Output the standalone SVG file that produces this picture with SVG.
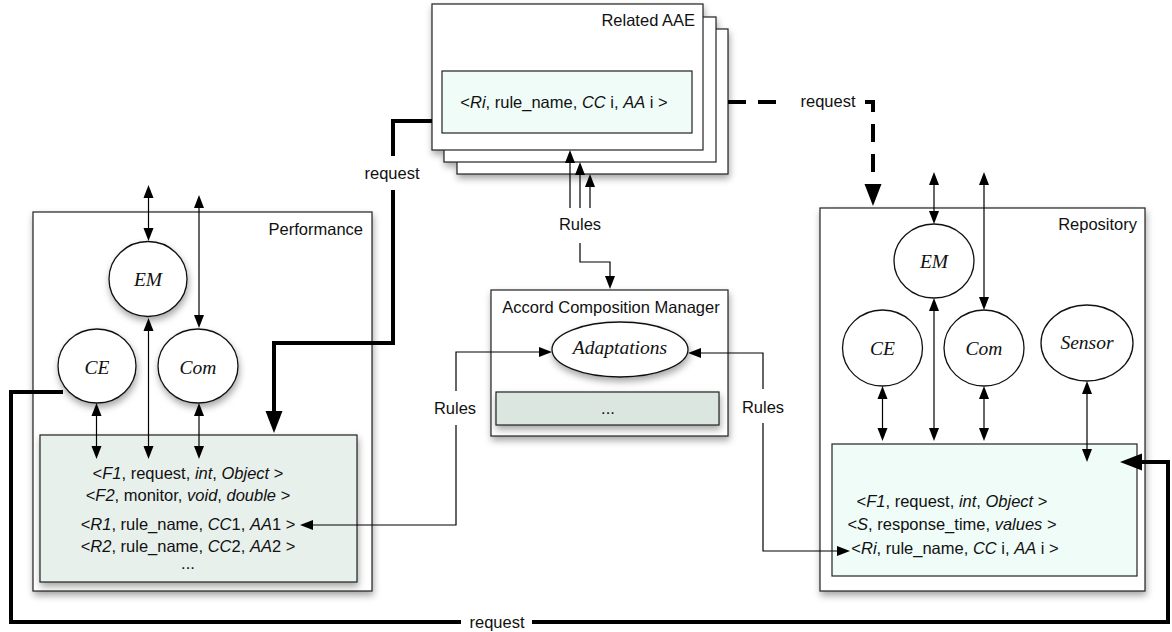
<svg xmlns="http://www.w3.org/2000/svg" width="1172" height="632" viewBox="0 0 1172 632">
  <style>
    .box { fill: #ffffff; stroke: #222; stroke-width: 1.2; }
    .store-grey { fill: #e8f0ec; stroke: #222; stroke-width: 1.2; }
    .store-cyan { fill: #effcf8; stroke: #222; stroke-width: 1.2; }
    .store-dark { fill: #dbe6e0; stroke: #222; stroke-width: 1.2; }
    .node { fill: #ffffff; stroke: #111; stroke-width: 1.3; }
    .lbl { font-family: "Liberation Sans", Arial, sans-serif; font-size: 16.5px; fill: #111; }
    .mid { text-anchor: middle; }
    .end { text-anchor: end; }
    .nm { font-family: "Liberation Serif", "Times New Roman", serif; font-style: italic; font-size: 19.5px; fill: #111; text-anchor: middle; }
    .i { font-style: italic; }
    .thin { fill: none; stroke: #000; stroke-width: 1.2; }
    .thick { fill: none; stroke: #000; stroke-width: 4; }
    .dash { fill: none; stroke: #000; stroke-width: 4; stroke-dasharray: 18 12; }
  </style>
  <defs>
    <filter id="shadow" x="-20%" y="-20%" width="140%" height="150%">
      <feDropShadow dx="1" dy="4" stdDeviation="3.5" flood-color="#000" flood-opacity="0.35"/>
    </filter>
    <!-- thin arrowhead: base sits on the path end, tip extends 13px beyond -->
    <marker id="ah" markerUnits="userSpaceOnUse" markerWidth="14" markerHeight="12" refX="0" refY="5" orient="auto-start-reverse" overflow="visible">
      <path d="M0,0 L13,5 L0,10 Z" fill="#000"/>
    </marker>
    <!-- heavy arrowhead for the request flows -->
    <marker id="ahBig" markerUnits="userSpaceOnUse" markerWidth="23" markerHeight="18" refX="0" refY="8.5" orient="auto" overflow="visible">
      <path d="M0,0 L22,8.5 L0,17 Z" fill="#000"/>
    </marker>
  </defs>

  <!-- Related AAE (stacked instances) -->
  <g id="related-aae">
    <g filter="url(#shadow)">
      <rect class="box" x="457" y="29" width="271" height="145"/>
      <rect class="box" x="444" y="17" width="272" height="145"/>
      <rect class="box" x="432" y="4" width="271" height="146"/>
    </g>
    <text class="lbl end" x="695" y="26">Related AAE</text>
    <rect class="store-cyan" x="442" y="71" width="250" height="62"/>
    <text class="lbl mid" x="564" y="108">&lt;<tspan class="i">Ri</tspan>, rule_name, <tspan class="i">CC</tspan> i, <tspan class="i">AA</tspan> i &gt;</text>
  </g>

  <!-- Performance AAE -->
  <g id="performance">
    <rect class="box" x="33" y="212" width="339" height="379" filter="url(#shadow)"/>
    <text class="lbl end" x="363" y="235">Performance</text>
    <rect class="store-grey" x="40" y="435" width="317" height="147" filter="url(#shadow)"/>
    <text class="lbl mid" x="188" y="479">&lt;<tspan class="i">F1</tspan>, request, <tspan class="i">int</tspan>, <tspan class="i">Object</tspan> &gt;</text>
    <text class="lbl mid" x="188" y="501">&lt;<tspan class="i">F2</tspan>, monitor, <tspan class="i">void</tspan>, <tspan class="i">double</tspan> &gt;</text>
    <text class="lbl mid" x="188" y="530">&lt;<tspan class="i">R1</tspan>, rule_name, <tspan class="i">CC</tspan>1, <tspan class="i">AA</tspan>1 &gt;</text>
    <text class="lbl mid" x="188" y="552">&lt;<tspan class="i">R2</tspan>, rule_name, <tspan class="i">CC</tspan>2, <tspan class="i">AA</tspan>2 &gt;</text>
    <text class="lbl mid" x="188" y="569">...</text>
  </g>
  <g id="perf-em">
    <ellipse class="node" cx="148" cy="279" rx="39" ry="37.5" filter="url(#shadow)"/>
    <text class="nm" x="148" y="286">EM</text>
  </g>
  <g id="perf-ce">
    <ellipse class="node" cx="97" cy="366" rx="39" ry="37" filter="url(#shadow)"/>
    <text class="nm" x="97" y="374">CE</text>
  </g>
  <g id="perf-com">
    <ellipse class="node" cx="198" cy="366" rx="40" ry="37" filter="url(#shadow)"/>
    <text class="nm" x="198" y="374">Com</text>
  </g>

  <!-- Accord Composition Manager -->
  <g id="acm">
    <rect class="box" x="491" y="290" width="237" height="146" filter="url(#shadow)"/>
    <text class="lbl mid" x="611" y="313">Accord Composition Manager</text>
    <rect class="store-dark" x="496" y="392" width="223" height="33" filter="url(#shadow)"/>
    <text class="lbl mid" x="608" y="414">...</text>
  </g>
  <g id="adaptations">
    <ellipse class="node" cx="620" cy="349.5" rx="68" ry="27.5" filter="url(#shadow)"/>
    <text class="nm" x="620" y="354">Adaptations</text>
  </g>

  <!-- Repository AAE -->
  <g id="repository">
    <rect class="box" x="820" y="208" width="325" height="383" filter="url(#shadow)"/>
    <text class="lbl end" x="1137" y="230">Repository</text>
    <rect class="store-cyan" x="832" y="444" width="305" height="132"/>
    <text class="lbl mid" x="952" y="507">&lt;<tspan class="i">F1</tspan>, request, <tspan class="i">int</tspan>, <tspan class="i">Object</tspan> &gt;</text>
    <text class="lbl mid" x="952" y="530">&lt;<tspan class="i">S</tspan>, response_time, <tspan class="i">values</tspan> &gt;</text>
    <text class="lbl mid" x="955" y="554">&lt;<tspan class="i">Ri</tspan>, rule_name, <tspan class="i">CC</tspan> i, <tspan class="i">AA</tspan> i &gt;</text>
  </g>
  <g id="repo-em">
    <ellipse class="node" cx="934" cy="261" rx="40" ry="37"/>
    <text class="nm" x="934" y="268">EM</text>
  </g>
  <g id="repo-ce">
    <ellipse class="node" cx="882.5" cy="348" rx="40" ry="38"/>
    <text class="nm" x="882.5" y="355">CE</text>
  </g>
  <g id="repo-com">
    <ellipse class="node" cx="984" cy="348" rx="40" ry="38"/>
    <text class="nm" x="984" y="355">Com</text>
  </g>
  <g id="repo-sensor">
    <ellipse class="node" cx="1087" cy="343" rx="46" ry="38"/>
    <text class="nm" x="1087" y="349">Sensor</text>
  </g>

  <!-- connectors -->
  <g id="connectors">
    <!-- Performance internal links -->
    <path class="thin" d="M148.5,198 V228" marker-start="url(#ah)" marker-end="url(#ah)"/>
    <path class="thin" d="M199,208 V315" marker-start="url(#ah)" marker-end="url(#ah)"/>
    <path class="thin" d="M148.5,331 V446" marker-start="url(#ah)" marker-end="url(#ah)"/>
    <path class="thin" d="M96.5,416 V446" marker-start="url(#ah)" marker-end="url(#ah)"/>
    <path class="thin" d="M199,416 V446" marker-start="url(#ah)" marker-end="url(#ah)"/>

    <!-- Repository internal links -->
    <path class="thin" d="M934,185 V211" marker-start="url(#ah)" marker-end="url(#ah)"/>
    <path class="thin" d="M984,185 V297" marker-start="url(#ah)" marker-end="url(#ah)"/>
    <path class="thin" d="M934,311 V428" marker-start="url(#ah)" marker-end="url(#ah)"/>
    <path class="thin" d="M882.5,399 V428" marker-start="url(#ah)" marker-end="url(#ah)"/>
    <path class="thin" d="M984,399 V428" marker-start="url(#ah)" marker-end="url(#ah)"/>
    <path class="thin" d="M1087,394 V449" marker-start="url(#ah)" marker-end="url(#ah)"/>

    <!-- Rules from the manager to the related AAEs -->
    <path class="thin" d="M570,208 V163" marker-end="url(#ah)"/>
    <path class="thin" d="M580,208 V175" marker-end="url(#ah)"/>
    <path class="thin" d="M590,208 V187" marker-end="url(#ah)"/>
    <text class="lbl mid" x="580" y="230">Rules</text>
    <path class="thin" d="M580,243 V262 H610 V276" marker-end="url(#ah)"/>

    <!-- Rules: Performance <-> Adaptations -->
    <path class="thin" d="M456,391 V352 H539" marker-end="url(#ah)"/>
    <path class="thin" d="M456,425 V525 H313" marker-end="url(#ah)"/>
    <text class="lbl mid" x="455" y="414">Rules</text>

    <!-- Rules: Adaptations <-> Repository -->
    <path class="thin" d="M763,389 V353 H701" marker-end="url(#ah)"/>
    <path class="thin" d="M763,423 V551 H837" marker-end="url(#ah)"/>
    <text class="lbl mid" x="763" y="413">Rules</text>

    <!-- request: Related AAE -> Performance -->
    <path class="thick" d="M432,121 H393 V156"/>
    <path class="thick" d="M393,190 V343 H274 V411" marker-end="url(#ahBig)"/>
    <text class="lbl mid" x="392" y="179">request</text>

    <!-- request: Related AAE -> Repository (dashed) -->
    <path class="dash" d="M728,102 H782"/>
    <path class="dash" d="M865,102 H873 V184"/>
    <path d="M864.5,184 L873,206 L881.5,184 Z" fill="#000"/>
    <text class="lbl mid" x="828" y="107">request</text>

    <!-- request: Performance CE -> Repository -->
    <path class="thick" d="M63,392 H11 V622 H461"/>
    <path class="thick" d="M532,622 H1168 V462 H1142" marker-end="url(#ahBig)"/>
    <text class="lbl mid" x="497" y="628">request</text>
  </g>
</svg>
